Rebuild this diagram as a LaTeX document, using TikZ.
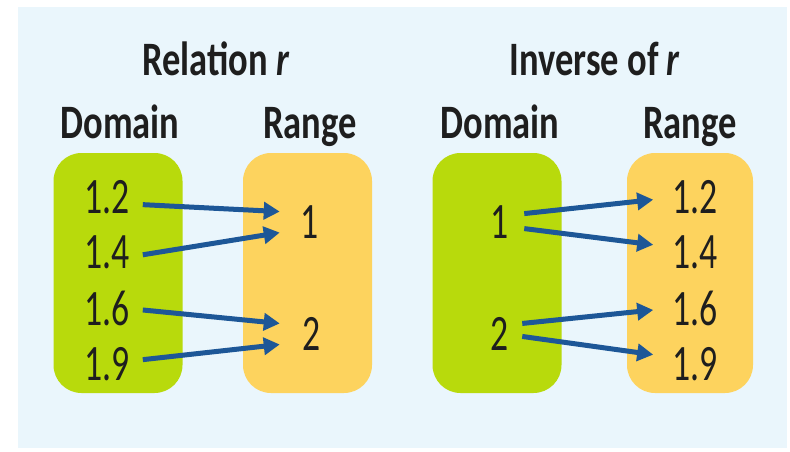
\documentclass[tikz,border=0pt]{standalone}
\usepackage{fontspec}
\usetikzlibrary{arrows.meta,calc}
\newfontfamily\headfont[FakeStretch=0.76]{Carlito}
\newfontfamily\numfont[FakeStretch=0.70]{Carlito}
\definecolor{panelbg}{HTML}{EAF6FC}
\definecolor{domfill}{HTML}{B8DA0C}
\definecolor{rngfill}{HTML}{FDD35E}
\definecolor{arrowblue}{HTML}{1D5797}
\definecolor{inkgray}{HTML}{1E1E1E}
\tikzset{
  setbox/.style={draw=none, rounded corners=28pt, minimum width=129pt, minimum height=240pt, inner sep=0pt},
  domset/.style={setbox, fill=domfill},
  rngset/.style={setbox, fill=rngfill},
  heading/.style={anchor=base, inner sep=0pt, text=inkgray, font=\headfont\bfseries\fontsize{48}{50}\selectfont},
  numlabel/.style={anchor=base, inner sep=0pt, text=inkgray, font=\numfont\fontsize{51}{53}\selectfont},
  maparrow/.style={draw=arrowblue, line width=5pt, -{Triangle[length=16pt,width=17pt]}}
}
\begin{document}
\begin{tikzpicture}[x=1pt,y=-1pt]
  \useasboundingbox (0,0) rectangle (790,452);
  \fill[white] (0,0) rectangle (790,452);
  \fill[panelbg] (18,7) rectangle (787,448);

  % set boxes
  \node[domset] (ldom) at (118,273) {};
  \node[rngset] (lrng) at (307.5,273) {};
  \node[domset] (rdom) at (497,273) {};
  \node[rngset, minimum width=126pt] (rrng) at (690,273) {};

  % headings
  \node[heading] (ttlL) at (216,75) {Relation \textit{r}};
  \node[heading] (ttlR) at (595,75) {Inverse of \textit{r}};
  \node[heading] (domL) at (120,138) {Domain};
  \node[heading] (rngL) at (310,138) {Range};
  \node[heading] (domR) at (500,138) {Domain};
  \node[heading] (rngR) at (690,138) {Range};

  % relation r
  \node[numlabel] (a12) at (107,213) {1.2};
  \node[numlabel] (a14) at (107,268) {1.4};
  \node[numlabel] (a16) at (107,325) {1.6};
  \node[numlabel] (a19) at (107,380) {1.9};
  \node[numlabel] (b1) at (310,238) {1};
  \node[numlabel] (b2) at (312,350) {2};

  \draw[maparrow] ($(a12.east)+(13,8)$) -- ($(b1.west)+(-21,-10)$);
  \draw[maparrow] ($(a14.east)+(13,3)$) -- ($(b1.west)+(-21,11)$);
  \draw[maparrow] ($(a16.east)+(13,2)$) -- ($(b2.west)+(-23,-10)$);
  \draw[maparrow] ($(a19.east)+(13,-4)$) -- ($(b2.west)+(-23,11)$);

  % inverse of r
  \node[numlabel] (c1) at (500,238) {1};
  \node[numlabel] (c2) at (500,350) {2};
  \node[numlabel] (d12) at (695,213) {1.2};
  \node[numlabel] (d14) at (695,268) {1.4};
  \node[numlabel] (d16) at (695,325) {1.6};
  \node[numlabel] (d19) at (695,380) {1.9};

  \draw[maparrow] ($(c1.east)+(15,-8)$) -- ($(d12.west)+(-19,3)$);
  \draw[maparrow] ($(c1.east)+(15,7)$) -- ($(d14.west)+(-19,-7)$);
  \draw[maparrow] ($(c2.east)+(13,-10)$) -- ($(d16.west)+(-19,2)$);
  \draw[maparrow] ($(c2.east)+(13,3)$) -- ($(d19.west)+(-19,-9)$);
\end{tikzpicture}
\end{document}
